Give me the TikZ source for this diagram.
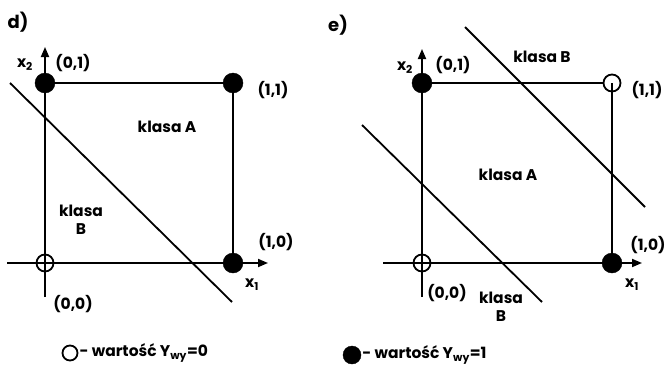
\documentclass[tikz,border=0pt]{standalone}
\usepackage{fontspec}
\setmainfont{Poppins}
\usepackage{tikz}
\usetikzlibrary{arrows.meta}

\tikzset{
  jedynka/.style={circle, fill=black, draw=black, minimum size=20pt, inner sep=0pt},
  zero/.style={circle, draw=black, line width=1.8pt, minimum size=17pt, inner sep=0pt},
  os/.style={line width=1.8pt, -{Triangle[length=10pt,width=8pt]}},
  bok/.style={line width=1.8pt},
  granica/.style={line width=1.8pt},
  opis/.style={font=\bfseries\fontsize{15.5}{18}\selectfont, inner sep=1pt, align=center}
}

\begin{document}
\begin{tikzpicture}[x=1pt, y=-1pt]
  \useasboundingbox (0,0) rectangle (665,370);

  % --- d) ---
  \node[opis, font=\bfseries\fontsize{18}{20}\selectfont] (dlit) at (18,22) {d)};
  \coordinate (dxl) at (7,263);
  \coordinate (dxr) at (268,263);
  \coordinate (dyd) at (45,297);
  \coordinate (dyg) at (45,47);
  \draw[os] (dxl) -- (dxr);
  \draw[os] (dyd) -- (dyg);
  \node[zero] (d00) at (45,263) {};
  \node[jedynka] (d01) at (45,83) {};
  \node[jedynka] (d11) at (233,83) {};
  \node[jedynka] (d10) at (233,263) {};
  \draw[bok] (d01) -- (d11) -- (d10);
  \coordinate (dga) at (10,83);
  \coordinate (dgb) at (232,302);
  \draw[granica] (dga) -- (dgb);
  \node[opis] (dx2) at (25,65) {x\textsubscript{2}};
  \node[opis] (dl01) at (73,63) {(0,1)};
  \node[opis] (dl11) at (273,90) {(1,1)};
  \node[opis] (dkA) at (167,127) {klasa A};
  \node[opis] (dkB) at (81,220) {klasa\\B};
  \node[opis] (dl10) at (276,242) {(1,0)};
  \node[opis] (dx1) at (252,285) {x\textsubscript{1}};
  \node[opis] (dl00) at (73,304) {(0,0)};

  % --- e) ---
  \node[opis, font=\bfseries\fontsize{18}{20}\selectfont] (elit) at (338,25) {e)};
  \coordinate (exl) at (383,263);
  \coordinate (exr) at (642,263);
  \coordinate (eyd) at (422,297);
  \coordinate (eyg) at (422,49);
  \draw[os] (exl) -- (exr);
  \draw[os] (eyd) -- (eyg);
  \node[zero] (e00) at (422,263) {};
  \node[jedynka] (e01) at (422,83) {};
  \node[zero] (e11) at (612,83) {};
  \node[jedynka] (e10) at (612,263) {};
  \draw[bok] (e01) -- (e11);
  \draw[bok] (e11.center) -- (e10);
  \coordinate (ega) at (465,27);
  \coordinate (egb) at (645,207);
  \coordinate (egc) at (362,125);
  \coordinate (egd) at (542,302);
  \draw[granica] (ega) -- (egb);
  \draw[granica] (egc) -- (egd);
  \node[opis] (ex2) at (405,68) {x\textsubscript{2}};
  \node[opis] (el01) at (453,65) {(0,1)};
  \node[opis] (ekB) at (542,57) {klasa B};
  \node[opis] (el11) at (647,90) {(1,1)};
  \node[opis] (ekA) at (508,175) {klasa A};
  \node[opis] (el10) at (648,245) {(1,0)};
  \node[opis] (ex1) at (632,285) {x\textsubscript{1}};
  \node[opis] (el00) at (447,293) {(0,0)};
  \node[opis] (ekB2) at (501,307) {klasa\\B};

  % --- legenda ---
  \node[zero, minimum size=15pt] (leg0) at (70,353) {};
  \node[opis, anchor=west] (legt0) at (leg0.east) {- wartość Y\textsubscript{wy}=0};
  \node[jedynka, minimum size=18pt] (leg1) at (352,355) {};
  \node[opis, anchor=west] (legt1) at (leg1.east) {- wartość Y\textsubscript{wy}=1};
\end{tikzpicture}
\end{document}
